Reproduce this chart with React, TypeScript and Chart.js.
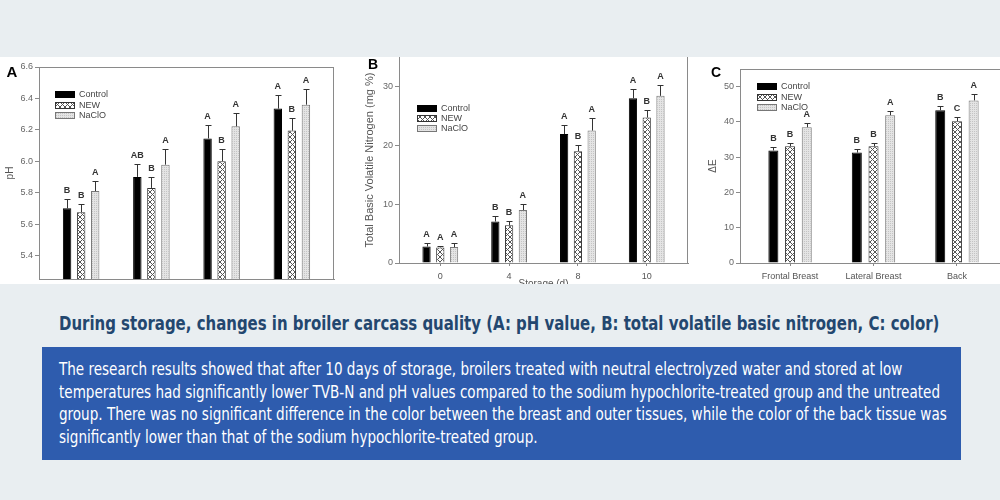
import React, { useEffect, useLayoutEffect, useRef } from "react";
import { Chart, registerables } from "chart.js";
Chart.register(...registerables);

const FONT = "'Liberation Sans', Arial, sans-serif";
const NARROW = "'Liberation Sans Narrow', 'DejaVu Sans Condensed', 'Liberation Sans', sans-serif";

const seriesNames = ["Control", "NEW", "NaClO"];

// Panel A: pH
const phCategories = ["0", "4", "8", "10"];
const phControl = [5.7, 5.9, 6.145, 6.335];
const phNew = [5.675, 5.83, 6.0, 6.195];
const phNaclo = [5.81, 5.978, 6.222, 6.36];
const phControlErr = [0.06, 0.08, 0.083, 0.088];
const phNewErr = [0.055, 0.072, 0.077, 0.081];
const phNacloErr = [0.065, 0.1, 0.082, 0.098];
const phControlSig = ["B", "AB", "A", "A"];
const phNewSig = ["B", "B", "B", "B"];
const phNacloSig = ["A", "A", "A", "A"];
const phTicks = [5.4, 5.6, 5.8, 6.0, 6.2, 6.4, 6.6];

// Panel B: TVB-N
const tvbnCategories = ["0", "4", "8", "10"];
const tvbnControl = [2.8, 7.05, 21.9, 28.0];
const tvbnNew = [2.65, 6.4, 19.0, 24.7];
const tvbnNaclo = [2.7, 9.0, 22.5, 28.4];
const tvbnControlErr = [0.6, 1.0, 1.6, 1.5];
const tvbnNewErr = [0.2, 0.8, 1.1, 1.3];
const tvbnNacloErr = [0.7, 1.0, 2.1, 1.9];
const tvbnControlSig = ["A", "B", "A", "A"];
const tvbnNewSig = ["A", "B", "B", "B"];
const tvbnNacloSig = ["A", "A", "A", "A"];
const tvbnTicks = [0, 10, 20, 30];

// Panel C: color (ΔE)
const colorCategories = ["Frontal Breast", "Lateral Breast", "Back"];
const colorControl = [31.9, 31.3, 43.3];
const colorNew = [33.1, 33.1, 40.2];
const colorNaclo = [38.5, 41.9, 46.1];
const colorControlErr = [1.0, 1.1, 1.3];
const colorNewErr = [1.0, 1.0, 1.1];
const colorNacloErr = [1.2, 1.1, 1.9];
const colorControlSig = ["B", "B", "B"];
const colorNewSig = ["B", "B", "C"];
const colorNacloSig = ["A", "A", "A"];
const colorTicks = [0, 10, 20, 30, 40, 50];

const captionTitle =
  "During storage, changes in broiler carcass quality (A: pH value, B: total volatile basic nitrogen, C: color)";
const captionLines = [
  "The research results showed that after 10 days of storage, broilers treated with neutral electrolyzed water and stored at low",
  "temperatures had significantly lower TVB-N and pH values compared to the sodium hypochlorite-treated group and the untreated",
  "group. There was no significant difference in the color between the breast and outer tissues, while the color of the back tissue was",
  "significantly lower than that of the sodium hypochlorite-treated group.",
];

type PanelProps = {
  canvasW: number;
  canvasH: number;
  categories: string[];
  values: number[][];
  errors: number[][];
  sigs: string[][];
  yMin: number;
  yMax: number;
  yTicks: number[];
  yDecimals: number;
  yTitle: string;
  yTitleSize: number;
  xMax: number;
  pad: { left: number; right: number; top: number; bottom: number };
  yAxisW: number;
  xAxisH: number;
  showXLabels: boolean;
  frameTop: boolean;
  frameRight: boolean;
  legendX: number;
  legendY: number;
  legendDy: number;
  letter: string;
  letterX: number;
  letterY: number;
  letterSize: number;
  xTitle?: string;
  xTitleY?: number;
};

function makeHatch(): CanvasPattern | string {
  const n = 5;
  const c = document.createElement("canvas");
  c.width = n;
  c.height = n;
  const g = c.getContext("2d");
  if (!g) return "#999";
  g.fillStyle = "#ffffff";
  g.fillRect(0, 0, n, n);
  g.strokeStyle = "#555";
  g.lineWidth = 1;
  g.beginPath();
  g.moveTo(0, 0);
  g.lineTo(n, n);
  g.moveTo(n, 0);
  g.lineTo(0, n);
  g.stroke();
  return g.createPattern(c, "repeat") || "#999";
}

function makeStipple(): CanvasPattern | string {
  const c = document.createElement("canvas");
  c.width = 2;
  c.height = 2;
  const g = c.getContext("2d");
  if (!g) return "#ddd";
  g.fillStyle = "#e4e4e4";
  g.fillRect(0, 0, 2, 2);
  g.fillStyle = "#c4c4c4";
  g.fillRect(0, 0, 1, 1);
  return g.createPattern(c, "repeat") || "#ddd";
}

function PanelChart(p: PanelProps) {
  const ref = useRef<HTMLCanvasElement>(null);
  useEffect(() => {
    const canvas = ref.current;
    if (!canvas) return;
    const fills: any[] = ["#000000", makeHatch(), makeStipple()];
    const borders = ["#000000", "#333333", "#777777"];

    const overlay = {
      id: "overlay",
      afterDatasetsDraw(chart: any) {
        const ctx = chart.ctx as CanvasRenderingContext2D;
        const ys = chart.scales.y;
        ctx.save();
        ctx.lineWidth = 1;
        ctx.strokeStyle = "#333";
        p.values.forEach((vals, d) => {
          const meta = chart.getDatasetMeta(d);
          meta.data.forEach((bar: any, i: number) => {
            const x = Math.round(bar.x) + 0.5;
            const base = ys.getPixelForValue(vals[i]);
            const top = Math.round(ys.getPixelForValue(vals[i] + p.errors[d][i])) + 0.5;
            ctx.beginPath();
            ctx.moveTo(x, base);
            ctx.lineTo(x, top);
            ctx.moveTo(x - 3, top);
            ctx.lineTo(x + 3, top);
            ctx.stroke();
            ctx.fillStyle = "#333";
            ctx.font = `bold 9px ${FONT}`;
            ctx.textAlign = "center";
            ctx.textBaseline = "middle";
            ctx.fillText(p.sigs[d][i], bar.x, top - 9);
          });
        });
        ctx.restore();
      },
      afterDraw(chart: any) {
        const ctx = chart.ctx as CanvasRenderingContext2D;
        const a = chart.chartArea;
        ctx.save();
        ctx.strokeStyle = "#8a8a8a";
        ctx.lineWidth = 1;
        ctx.beginPath();
        if (p.frameTop) {
          ctx.moveTo(a.left, Math.round(a.top) + 0.5);
          ctx.lineTo(a.right, Math.round(a.top) + 0.5);
        }
        if (p.frameRight) {
          ctx.moveTo(Math.round(a.right) - 0.5, a.top);
          ctx.lineTo(Math.round(a.right) - 0.5, a.bottom);
        }
        ctx.stroke();
        // legend
        ctx.font = `9px ${FONT}`;
        ctx.textAlign = "left";
        ctx.textBaseline = "middle";
        chart.data.datasets.forEach((ds: any, d: number) => {
          const yy = Math.round(p.legendY + d * p.legendDy);
          ctx.fillStyle = ds.backgroundColor;
          ctx.fillRect(p.legendX, yy - 3, 20, 7);
          ctx.strokeStyle = ds.borderColor;
          ctx.strokeRect(p.legendX + 0.5, yy - 2.5, 19, 6);
          ctx.fillStyle = "#444";
          ctx.fillText(ds.label, p.legendX + 24, yy + 0.5);
        });
        // panel letter
        ctx.fillStyle = "#000";
        ctx.font = `bold ${p.letterSize}px ${FONT}`;
        ctx.textAlign = "center";
        ctx.fillText(p.letter, p.letterX, p.letterY);
        if (p.xTitle) {
          ctx.font = `10px ${FONT}`;
          ctx.fillStyle = "#555";
          ctx.textBaseline = "alphabetic";
          ctx.fillText(p.xTitle, (a.left + a.right) / 2, p.xTitleY || 0);
        }
        ctx.restore();
      },
    };

    const chart = new Chart(canvas, {
      type: "bar",
      data: {
        datasets: seriesNames.map((name, d) => ({
          label: name,
          data: p.values[d].map((v, i) => ({ x: i, y: v })),
          backgroundColor: fills[d],
          borderColor: borders[d],
          borderWidth: 1,
          borderSkipped: "bottom",
          categoryPercentage: 0.6,
          barPercentage: 0.6,
        })),
      } as any,
      options: {
        animation: false,
        responsive: false,
        maintainAspectRatio: false,
        devicePixelRatio: 1,
        layout: { padding: p.pad },
        plugins: { legend: { display: false }, tooltip: { enabled: false } },
        scales: {
          x: {
            type: "linear",
            min: -0.6,
            max: p.xMax,
            offset: false,
            grid: {
              offset: false,
              drawOnChartArea: false,
              drawTicks: p.showXLabels,
              tickLength: 3,
              color: "#8a8a8a",
            },
            border: { display: true, color: "#8a8a8a" },
            ticks: {
              display: p.showXLabels,
              autoSkip: false,
              maxRotation: 0,
              padding: 5,
              color: "#555",
              font: { family: FONT, size: 9 },
              callback: (v: any) => p.categories[Math.round(Number(v))] ?? "",
            },
            afterBuildTicks: (s: any) => {
              s.ticks = p.categories.map((_, i) => ({ value: i }));
            },
            afterFit: (s: any) => {
              s.height = p.xAxisH;
              s.paddingLeft = 0;
              s.paddingRight = 0;
            },
          },
          y: {
            type: "linear",
            min: p.yMin,
            max: p.yMax,
            grid: { drawOnChartArea: false, drawTicks: true, tickLength: 4, color: "#8a8a8a" },
            border: { display: true, color: "#8a8a8a" },
            title: {
              display: true,
              text: p.yTitle,
              color: "#555",
              font: { family: FONT, size: p.yTitleSize },
              padding: { top: 4, bottom: 4 },
            },
            ticks: {
              padding: 2,
              color: "#666",
              font: { family: FONT, size: 9 },
              callback: (v: any) => Number(v).toFixed(p.yDecimals),
            },
            afterBuildTicks: (s: any) => {
              s.ticks = p.yTicks.map((v) => ({ value: v }));
            },
            afterFit: (s: any) => {
              s.width = p.yAxisW;
              s.paddingTop = 0;
              s.paddingBottom = 0;
            },
          },
        },
      } as any,
      plugins: [overlay],
    });
    return () => chart.destroy();
  }, []);
  return (
    <canvas
      ref={ref}
      width={p.canvasW}
      height={p.canvasH}
      style={{ width: p.canvasW, height: p.canvasH, display: "block" }}
    />
  );
}

const TITLE_WIDTH = 880;
const BODY_WIDTH = 881;

export default function App() {
  const titleRef = useRef<HTMLSpanElement>(null);
  const bodyRef = useRef<HTMLDivElement>(null);
  useLayoutEffect(() => {
    const t = titleRef.current;
    if (t && t.offsetWidth) t.style.transform = `scaleX(${TITLE_WIDTH / t.offsetWidth})`;
    const b = bodyRef.current;
    if (b) {
      const spans = Array.from(b.querySelectorAll("span")) as HTMLSpanElement[];
      const w = spans[1].offsetWidth;
      if (w) {
        const k = BODY_WIDTH / w;
        spans.forEach((s) => (s.style.transform = `scaleX(${k})`));
      }
    }
  }, []);

  return (
    <div
      style={{
        position: "absolute",
        left: 0,
        top: 0,
        width: 1000,
        height: 500,
        background: "#e9eef1",
        overflow: "hidden",
      }}
    >
      <div style={{ position: "absolute", left: 0, top: 57, width: 1000, height: 227, background: "#fff" }} />
      <div style={{ position: "absolute", left: 0, top: 57, width: 340, height: 227 }}>
        <PanelChart
          canvasW={340}
          canvasH={227}
          categories={phCategories}
          values={[phControl, phNew, phNaclo]}
          errors={[phControlErr, phNewErr, phNacloErr]}
          sigs={[phControlSig, phNewSig, phNacloSig]}
          yMin={5.25}
          yMax={6.6}
          yTicks={phTicks}
          yDecimals={1}
          yTitle="pH"
          yTitleSize={10}
          xMax={3.6}
          pad={{ left: 0, right: 6, top: 10, bottom: 0 }}
          yAxisW={39}
          xAxisH={5}
          showXLabels={false}
          frameTop={true}
          frameRight={true}
          legendX={55}
          legendY={37}
          legendDy={10.5}
          letter="A"
          letterX={12}
          letterY={16}
          letterSize={15}
        />
      </div>
      <div style={{ position: "absolute", left: 345, top: 57, width: 355, height: 227 }}>
        <PanelChart
          canvasW={355}
          canvasH={227}
          categories={tvbnCategories}
          values={[tvbnControl, tvbnNew, tvbnNaclo]}
          errors={[tvbnControlErr, tvbnNewErr, tvbnNacloErr]}
          sigs={[tvbnControlSig, tvbnNewSig, tvbnNacloSig]}
          yMin={0}
          yMax={35}
          yTicks={tvbnTicks}
          yDecimals={0}
          yTitle="Total Basic Volatile Nitrogen (mg %)"
          yTitleSize={11}
          xMax={3.6}
          pad={{ left: 14, right: 12, top: 0, bottom: 0 }}
          yAxisW={40}
          xAxisH={21}
          showXLabels={true}
          frameTop={false}
          frameRight={true}
          legendX={72}
          legendY={51}
          legendDy={10}
          letter="B"
          letterX={28}
          letterY={8}
          letterSize={14}
          xTitle="Storage (d)"
          xTitleY={230}
        />
      </div>
      <div style={{ position: "absolute", left: 700, top: 57, width: 300, height: 227, overflow: "hidden" }}>
        <PanelChart
          canvasW={320}
          canvasH={227}
          categories={colorCategories}
          values={[colorControl, colorNew, colorNaclo]}
          errors={[colorControlErr, colorNewErr, colorNacloErr]}
          sigs={[colorControlSig, colorNewSig, colorNacloSig]}
          yMin={0}
          yMax={55}
          yTicks={colorTicks}
          yDecimals={0}
          yTitle="ΔE"
          yTitleSize={10}
          xMax={2.6}
          pad={{ left: 3, right: 13, top: 12, bottom: 0 }}
          yAxisW={37}
          xAxisH={21}
          showXLabels={true}
          frameTop={true}
          frameRight={true}
          legendX={57}
          legendY={29}
          legendDy={10.5}
          letter="C"
          letterX={16}
          letterY={16.5}
          letterSize={14}
        />
      </div>

      <div style={{ position: "absolute", left: 59, top: 311, whiteSpace: "nowrap" }}>
        <span
          ref={titleRef}
          style={{
            display: "inline-block",
            transformOrigin: "left center",
            fontFamily: NARROW,
            fontWeight: "bold",
            fontSize: 19,
            lineHeight: "24px",
            color: "#23476f",
          }}
        >
          {captionTitle}
        </span>
      </div>

      <div
        ref={bodyRef}
        style={{
          position: "absolute",
          left: 42,
          top: 347,
          width: 919,
          height: 113,
          background: "#2e5cae",
          boxSizing: "border-box",
          paddingLeft: 17,
          paddingTop: 11,
        }}
      >
        {captionLines.map((line, i) => (
          <div key={i} style={{ height: 22.5, whiteSpace: "nowrap" }}>
            <span
              style={{
                display: "inline-block",
                transformOrigin: "left center",
                fontFamily: NARROW,
                fontSize: 17,
                lineHeight: "22.5px",
                color: "#ffffff",
              }}
            >
              {line}
            </span>
          </div>
        ))}
      </div>
    </div>
  );
}
